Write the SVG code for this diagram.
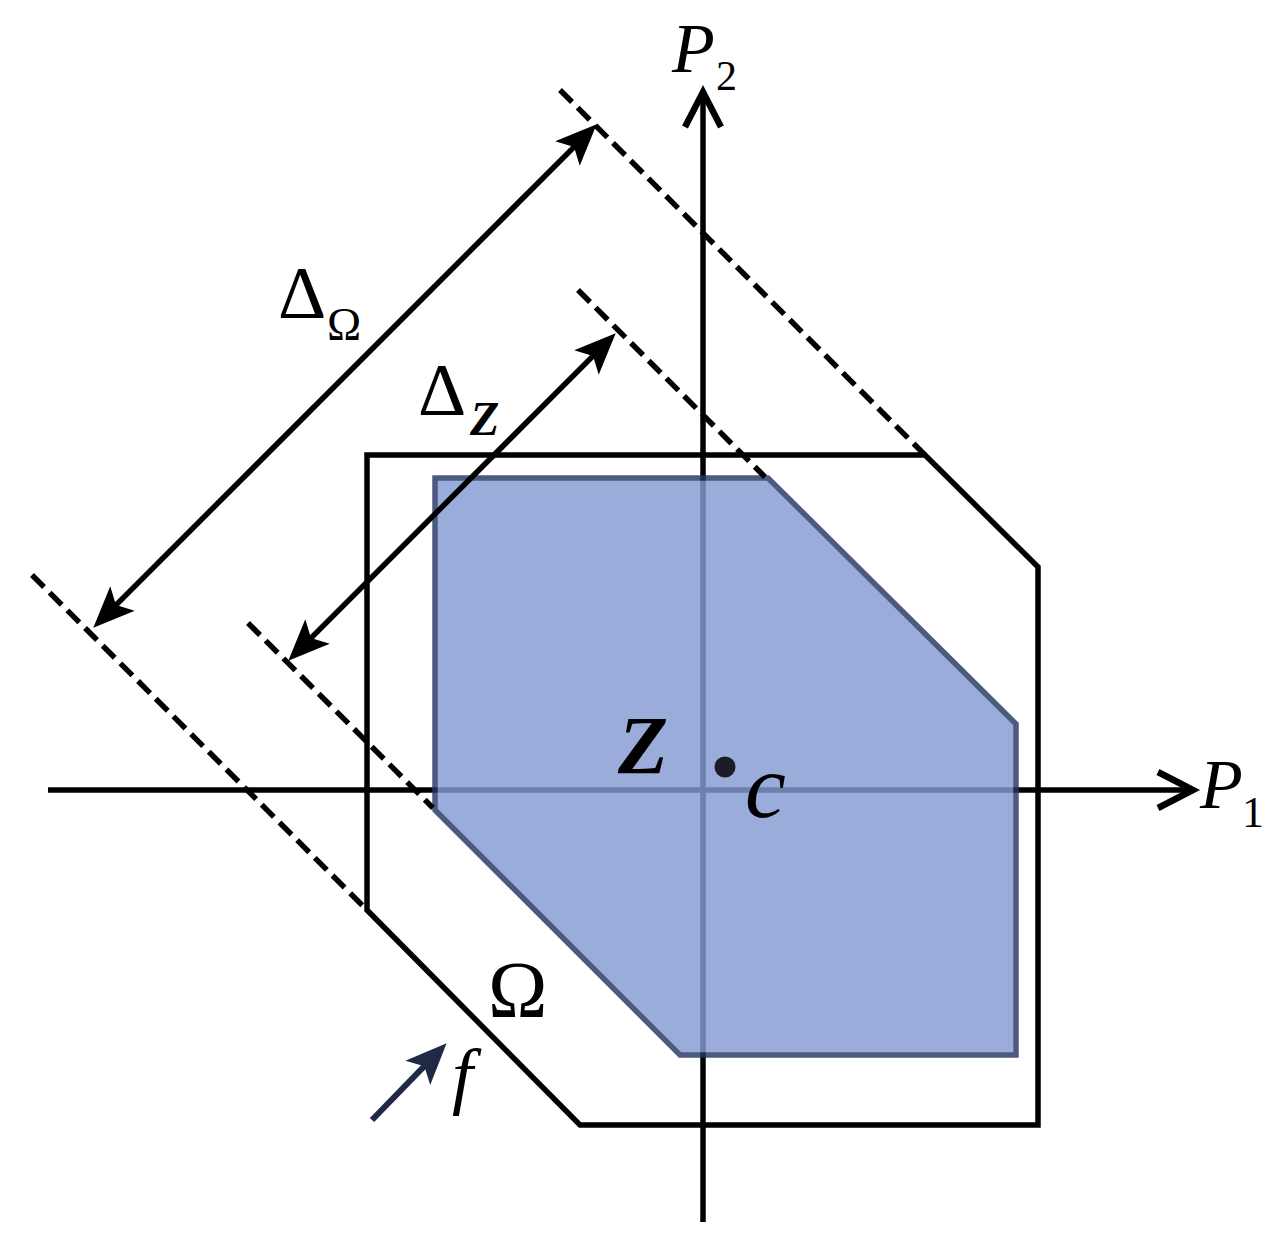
<svg xmlns="http://www.w3.org/2000/svg" width="1274" height="1247" viewBox="0 0 1274 1247">
<defs>
<style>
.ax{stroke:#000;stroke-width:5.5;fill:none}
.om{stroke:#000;stroke-width:5.5;fill:none;stroke-linejoin:miter}
.zs{fill:#859CD3;stroke:#253766;stroke-width:5.5;opacity:0.82}
.dash{stroke:#000;stroke-width:5.5;stroke-dasharray:17 8;fill:none}
.dim{stroke:#000;stroke-width:5.5;fill:none}
.farrow{stroke:#1F2A44;stroke-width:6;fill:none}
.lab{fill:#000}
.it{font-style:italic}
.bi{font-style:italic;font-weight:bold}
</style>
<marker id="open" markerUnits="userSpaceOnUse" markerWidth="50" markerHeight="50" viewBox="-40 -25 50 50" refX="0" refY="0" orient="auto" overflow="visible">
<path d="M-35,-18 L0,0 L-35,18" fill="none" stroke="#000" stroke-width="6.5"/>
</marker>
<marker id="solid" markerUnits="userSpaceOnUse" markerWidth="40" markerHeight="40" viewBox="0 -15 30 30" refX="24" refY="0" orient="auto-start-reverse" overflow="visible">
<path d="M0,-13 L31,0 L0,13 L7,0 z" fill="#000"/>
</marker>
<marker id="navy" markerUnits="userSpaceOnUse" markerWidth="40" markerHeight="40" viewBox="0 -15 30 30" refX="24" refY="0" orient="auto" overflow="visible">
<path d="M0,-13 L31,0 L0,13 L7,0 z" fill="#1F2A44"/>
</marker>
</defs>
<rect width="1274" height="1247" fill="#fff"/>

<g id="axes">
<line class="ax" x1="48" y1="790" x2="1193" y2="790" marker-end="url(#open)"/>
<line class="ax" x1="703" y1="1222" x2="703" y2="92" marker-end="url(#open)"/>
</g>

<g id="Omega">
<polygon class="om" points="367,455 925,455 1038,567 1038,1125 580,1125 367,910"/>
</g>

<g id="Zset">
<polygon class="zs" points="435,478 768,478 1016,724 1016,1055 680,1055 435,810"/>
</g>

<g id="connectors">
<line class="dash" x1="560" y1="90" x2="925" y2="455"/>
<line class="dash" x1="32" y1="575" x2="367" y2="910"/>
<line class="dash" x1="578" y1="290" x2="765" y2="477"/>
<line class="dash" x1="248" y1="623" x2="433" y2="808"/>
<line class="dim" x1="99.9" y1="621.1" x2="590.1" y2="130.9" marker-start="url(#solid)" marker-end="url(#solid)"/>
<line class="dim" x1="294.9" y1="654.1" x2="609.1" y2="339.9" marker-start="url(#solid)" marker-end="url(#solid)"/>
<line class="farrow" x1="372" y1="1120" x2="440.1" y2="1049.9" marker-end="url(#navy)"/>
</g>

<g id="point-c">
<circle cx="725" cy="767" r="10.5" fill="#1a1d26"/>
</g>

<g id="labels" font-family="Times New Roman, Liberation Serif, Tinos, serif">
<text class="lab it" x="672" y="72" font-size="70">P</text>
<text class="lab" x="716" y="90" font-size="42">2</text>
<text class="lab it" x="1200" y="808" font-size="70">P</text>
<text class="lab" x="1242" y="827" font-size="44">1</text>
<text class="lab" x="278" y="318" font-size="75">Δ</text>
<text class="lab" x="327" y="340" font-size="46">Ω</text>
<text class="lab" x="418" y="415" font-size="75">Δ</text>
<text class="lab bi" x="470" y="435" font-size="48">Z</text>
<text class="lab bi" x="618" y="773" font-size="82">Z</text>
<text class="lab it" x="745" y="817" font-size="92">c</text>
<text class="lab" x="488" y="1017" font-size="80">Ω</text>
<text class="lab it" x="452" y="1100" font-size="75">f</text>
</g>
</svg>
